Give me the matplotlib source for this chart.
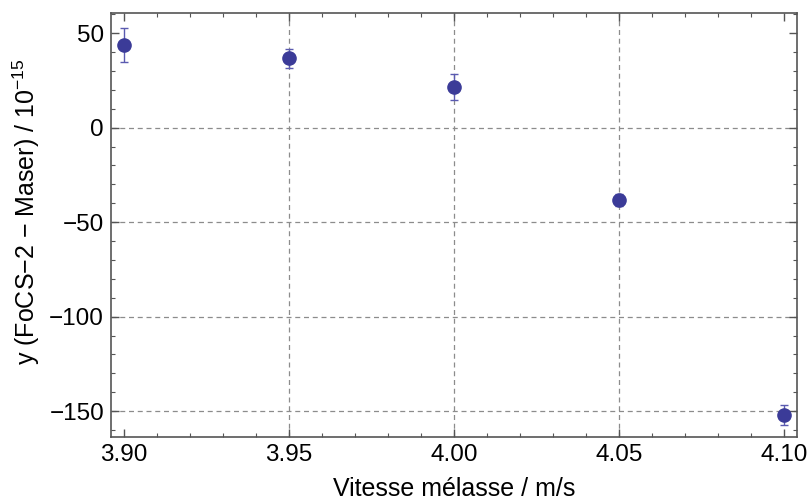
import matplotlib
matplotlib.use('Agg')
import matplotlib.pyplot as plt
from matplotlib.ticker import MultipleLocator, FixedLocator

plt.rcParams['font.family'] = ['Liberation Sans', 'DejaVu Sans']
plt.rcParams['mathtext.fontset'] = 'custom'
plt.rcParams['mathtext.rm'] = 'Liberation Sans'
plt.rcParams['mathtext.it'] = 'Liberation Sans:italic'

vitesse = [3.90, 3.95, 4.00, 4.05, 4.10]
ecart = [44.0, 36.8, 21.4, -38.3, -152.0]
erreur = [9.0, 5.0, 7.0, 3.0, 5.5]

POINT = '#3b3b98'
BARRE = '#5a5ab0'
CADRE = '#555555'
GRILLE = '#8c8c8c'

fig = plt.figure(figsize=(8.09, 5.03), dpi=100)
ax = fig.add_axes([0.1372, 0.1312, 0.848, 0.843])

for x in [3.95, 4.00, 4.05]:
    ax.axvline(x, color=GRILLE, linestyle=(0, (4, 3)), linewidth=0.9, zorder=1)
for y in [0, -50, -100, -150]:
    ax.axhline(y, color=GRILLE, linestyle=(0, (4, 3)), linewidth=0.9, zorder=1)

ax.errorbar(vitesse, ecart, yerr=erreur, fmt='none', ecolor=BARRE,
            elinewidth=1.0, capsize=3, capthick=1.0, zorder=2)
ax.plot(vitesse, ecart, 'o', color=POINT, markersize=9.5, zorder=3)

ax.set_xlim(3.896, 4.104)
ax.set_ylim(-163.7, 60.7)

ax.xaxis.set_major_locator(FixedLocator([3.90, 3.95, 4.00, 4.05, 4.10]))
ax.xaxis.set_minor_locator(MultipleLocator(0.01))
ax.yaxis.set_major_locator(MultipleLocator(50))
ax.yaxis.set_minor_locator(MultipleLocator(10))
ax.xaxis.set_major_formatter(plt.FuncFormatter(lambda v, p: f'{v:.2f}'))
ax.yaxis.set_major_formatter(plt.FuncFormatter(lambda v, p: f'{v:.0f}'.replace('-', '\u2212')))

ax.tick_params(which='both', direction='in', top=True, right=True,
               color=CADRE, labelsize=17.5, pad=5)
ax.tick_params(which='major', length=6, width=1.0)
ax.tick_params(which='minor', length=3, width=0.8)
for s in ax.spines.values():
    s.set_color(CADRE)
    s.set_linewidth(1.2)

ax.set_xlabel('Vitesse mélasse / m/s', fontsize=18, labelpad=8)
ax.set_ylabel('y (FoCS\u22122 \u2212 Maser) / 10$^{\u221215}$', fontsize=18)
ax.yaxis.set_label_coords(-0.10, 0.53)

fig.savefig('out.png', dpi=100)
